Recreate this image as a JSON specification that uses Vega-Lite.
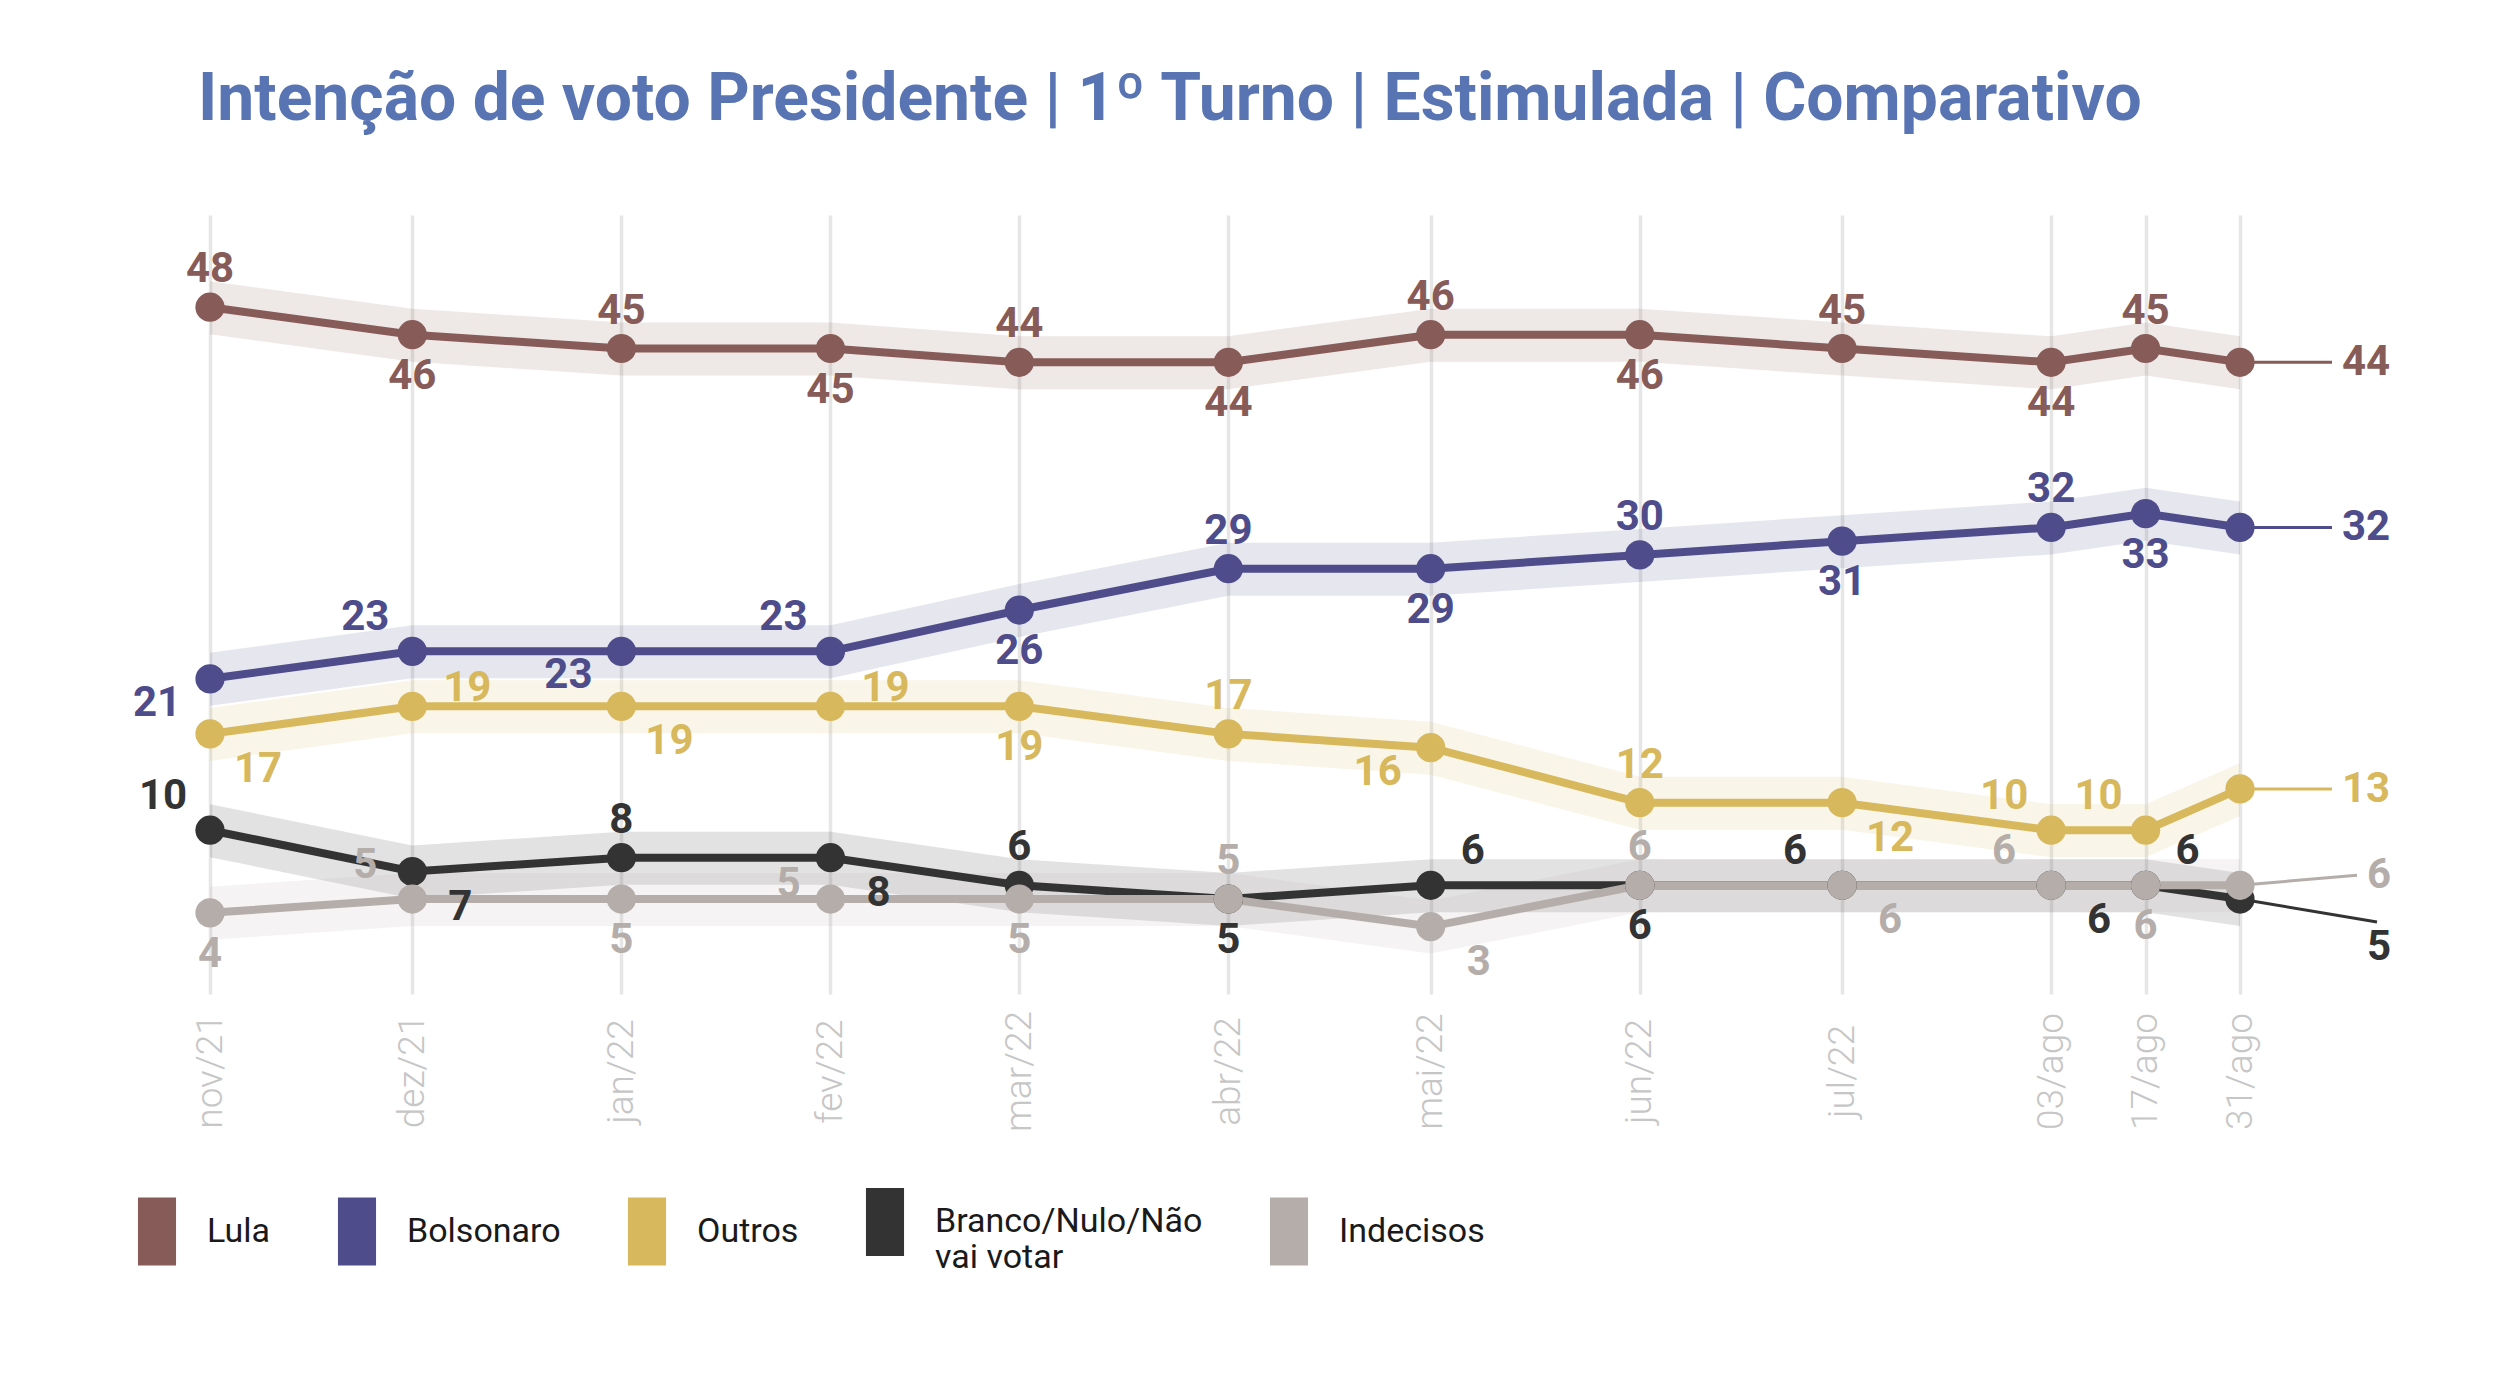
{
  "$schema": "https://vega.github.io/schema/vega-lite/v6.json",
  "width": 2030,
  "height": 779,
  "autosize": {"type": "none"},
  "padding": {"left": 210, "top": 215, "right": 254, "bottom": 404},
  "background": "white",
  "config": {"view": {"stroke": null}, "font": "Roboto"},
  "title": {
    "text": "Intenção de voto Presidente | 1º Turno | Estimulada | Comparativo",
    "anchor": "start", "frame": "group", "dx": -12, "offset": 29,
    "font": "Roboto", "fontSize": 66, "fontWeight": "bold", "color": "#5874B3", "baseline": "alphabetic"
  },
  "data": {"values": [
    {"serie": "Lula", "periodo": "nov/21", "data": "2021-11-03", "valor": 48, "pos": "above"},
    {"serie": "Lula", "periodo": "dez/21", "data": "2021-12-03", "valor": 46, "pos": "below"},
    {"serie": "Lula", "periodo": "jan/22", "data": "2022-01-03", "valor": 45, "pos": "above"},
    {"serie": "Lula", "periodo": "fev/22", "data": "2022-02-03", "valor": 45, "pos": "below"},
    {"serie": "Lula", "periodo": "mar/22", "data": "2022-03-03", "valor": 44, "pos": "above"},
    {"serie": "Lula", "periodo": "abr/22", "data": "2022-04-03", "valor": 44, "pos": "below"},
    {"serie": "Lula", "periodo": "mai/22", "data": "2022-05-03", "valor": 46, "pos": "above"},
    {"serie": "Lula", "periodo": "jun/22", "data": "2022-06-03", "valor": 46, "pos": "below"},
    {"serie": "Lula", "periodo": "jul/22", "data": "2022-07-03", "valor": 45, "pos": "above"},
    {"serie": "Lula", "periodo": "03/ago", "data": "2022-08-03", "valor": 44, "pos": "below"},
    {"serie": "Lula", "periodo": "17/ago", "data": "2022-08-17", "valor": 45, "pos": "above"},
    {"serie": "Lula", "periodo": "31/ago", "data": "2022-08-31", "valor": 44, "pos": "end"},
    {"serie": "Bolsonaro", "periodo": "nov/21", "data": "2021-11-03", "valor": 21, "pos": "below-left"},
    {"serie": "Bolsonaro", "periodo": "dez/21", "data": "2021-12-03", "valor": 23, "pos": "above-left"},
    {"serie": "Bolsonaro", "periodo": "jan/22", "data": "2022-01-03", "valor": 23, "pos": "below-left"},
    {"serie": "Bolsonaro", "periodo": "fev/22", "data": "2022-02-03", "valor": 23, "pos": "above-left"},
    {"serie": "Bolsonaro", "periodo": "mar/22", "data": "2022-03-03", "valor": 26, "pos": "below"},
    {"serie": "Bolsonaro", "periodo": "abr/22", "data": "2022-04-03", "valor": 29, "pos": "above"},
    {"serie": "Bolsonaro", "periodo": "mai/22", "data": "2022-05-03", "valor": 29, "pos": "below"},
    {"serie": "Bolsonaro", "periodo": "jun/22", "data": "2022-06-03", "valor": 30, "pos": "above"},
    {"serie": "Bolsonaro", "periodo": "jul/22", "data": "2022-07-03", "valor": 31, "pos": "below"},
    {"serie": "Bolsonaro", "periodo": "03/ago", "data": "2022-08-03", "valor": 32, "pos": "above"},
    {"serie": "Bolsonaro", "periodo": "17/ago", "data": "2022-08-17", "valor": 33, "pos": "below"},
    {"serie": "Bolsonaro", "periodo": "31/ago", "data": "2022-08-31", "valor": 32, "pos": "end"},
    {"serie": "Outros", "periodo": "nov/21", "data": "2021-11-03", "valor": 17, "pos": "below-right"},
    {"serie": "Outros", "periodo": "dez/21", "data": "2021-12-03", "valor": 19, "pos": "right"},
    {"serie": "Outros", "periodo": "jan/22", "data": "2022-01-03", "valor": 19, "pos": "below-right"},
    {"serie": "Outros", "periodo": "fev/22", "data": "2022-02-03", "valor": 19, "pos": "right"},
    {"serie": "Outros", "periodo": "mar/22", "data": "2022-03-03", "valor": 19, "pos": "below"},
    {"serie": "Outros", "periodo": "abr/22", "data": "2022-04-03", "valor": 17, "pos": "above"},
    {"serie": "Outros", "periodo": "mai/22", "data": "2022-05-03", "valor": 16, "pos": "below-left"},
    {"serie": "Outros", "periodo": "jun/22", "data": "2022-06-03", "valor": 12, "pos": "above"},
    {"serie": "Outros", "periodo": "jul/22", "data": "2022-07-03", "valor": 12, "pos": "below-right"},
    {"serie": "Outros", "periodo": "03/ago", "data": "2022-08-03", "valor": 10, "pos": "above-left"},
    {"serie": "Outros", "periodo": "17/ago", "data": "2022-08-17", "valor": 10, "pos": "above-left"},
    {"serie": "Outros", "periodo": "31/ago", "data": "2022-08-31", "valor": 13, "pos": "end"},
    {"serie": "Branco/Nulo/Não vai votar", "periodo": "nov/21", "data": "2021-11-03", "valor": 10, "pos": "above-left"},
    {"serie": "Branco/Nulo/Não vai votar", "periodo": "dez/21", "data": "2021-12-03", "valor": 7, "pos": "below-right"},
    {"serie": "Branco/Nulo/Não vai votar", "periodo": "jan/22", "data": "2022-01-03", "valor": 8, "pos": "above"},
    {"serie": "Branco/Nulo/Não vai votar", "periodo": "fev/22", "data": "2022-02-03", "valor": 8, "pos": "below-right"},
    {"serie": "Branco/Nulo/Não vai votar", "periodo": "mar/22", "data": "2022-03-03", "valor": 6, "pos": "above"},
    {"serie": "Branco/Nulo/Não vai votar", "periodo": "abr/22", "data": "2022-04-03", "valor": 5, "pos": "below"},
    {"serie": "Branco/Nulo/Não vai votar", "periodo": "mai/22", "data": "2022-05-03", "valor": 6, "pos": "above-right"},
    {"serie": "Branco/Nulo/Não vai votar", "periodo": "jun/22", "data": "2022-06-03", "valor": 6, "pos": "below"},
    {"serie": "Branco/Nulo/Não vai votar", "periodo": "jul/22", "data": "2022-07-03", "valor": 6, "pos": "above-left"},
    {"serie": "Branco/Nulo/Não vai votar", "periodo": "03/ago", "data": "2022-08-03", "valor": 6, "pos": "below-right"},
    {"serie": "Branco/Nulo/Não vai votar", "periodo": "17/ago", "data": "2022-08-17", "valor": 6, "pos": "above-right"},
    {"serie": "Branco/Nulo/Não vai votar", "periodo": "31/ago", "data": "2022-08-31", "valor": 5, "pos": "end-down"},
    {"serie": "Indecisos", "periodo": "nov/21", "data": "2021-11-03", "valor": 4, "pos": "below"},
    {"serie": "Indecisos", "periodo": "dez/21", "data": "2021-12-03", "valor": 5, "pos": "above-left"},
    {"serie": "Indecisos", "periodo": "jan/22", "data": "2022-01-03", "valor": 5, "pos": "below"},
    {"serie": "Indecisos", "periodo": "fev/22", "data": "2022-02-03", "valor": 5, "pos": "left"},
    {"serie": "Indecisos", "periodo": "mar/22", "data": "2022-03-03", "valor": 5, "pos": "below"},
    {"serie": "Indecisos", "periodo": "abr/22", "data": "2022-04-03", "valor": 5, "pos": "above"},
    {"serie": "Indecisos", "periodo": "mai/22", "data": "2022-05-03", "valor": 3, "pos": "below-right"},
    {"serie": "Indecisos", "periodo": "jun/22", "data": "2022-06-03", "valor": 6, "pos": "above"},
    {"serie": "Indecisos", "periodo": "jul/22", "data": "2022-07-03", "valor": 6, "pos": "below-right"},
    {"serie": "Indecisos", "periodo": "03/ago", "data": "2022-08-03", "valor": 6, "pos": "above-left"},
    {"serie": "Indecisos", "periodo": "17/ago", "data": "2022-08-17", "valor": 6, "pos": "below"},
    {"serie": "Indecisos", "periodo": "31/ago", "data": "2022-08-31", "valor": 6, "pos": "end-up"}
  ]},
  "encoding": {
    "x": {
      "field": "data", "type": "temporal",
      "scale": {"type": "utc", "nice": false},
      "axis": {
        "values": [
          {"year": 2021, "month": 11, "date": 3, "utc": true},
          {"year": 2021, "month": 12, "date": 3, "utc": true},
          {"year": 2022, "month": 1, "date": 3, "utc": true},
          {"year": 2022, "month": 2, "date": 3, "utc": true},
          {"year": 2022, "month": 3, "date": 3, "utc": true},
          {"year": 2022, "month": 4, "date": 3, "utc": true},
          {"year": 2022, "month": 5, "date": 3, "utc": true},
          {"year": 2022, "month": 6, "date": 3, "utc": true},
          {"year": 2022, "month": 7, "date": 3, "utc": true},
          {"year": 2022, "month": 8, "date": 3, "utc": true},
          {"year": 2022, "month": 8, "date": 17, "utc": true},
          {"year": 2022, "month": 8, "date": 31, "utc": true}
        ],
        "labelExpr": "(utcdate(datum.value) == 3 && utcmonth(datum.value) != 7) ? ['jan','fev','mar','abr','mai','jun','jul','ago','set','out','nov','dez'][utcmonth(datum.value)] + '/' + utcFormat(datum.value, '%y') : utcFormat(datum.value, '%d') + '/ago'",
        "labelAngle": -90, "labelAlign": "center", "labelBaseline": "middle", "labelPadding": 77,
        "ticks": false, "tickSize": 0, "domain": false,
        "grid": true, "gridColor": "#E6E6E6", "gridWidth": 3.5,
        "labelFont": "Roboto", "labelFontWeight": 300, "labelFontSize": 37, "labelColor": "#C6C6C6",
        "labelOverlap": false, "labelFlush": false, "labelBound": false, "title": null
      }
    },
    "y": {"field": "valor", "type": "quantitative", "scale": {"domain": [-1.9, 54.7], "nice": false, "zero": false}, "axis": null},
    "color": {
      "field": "serie", "type": "nominal",
      "scale": {
        "domain": ["Lula", "Bolsonaro", "Outros", "Branco/Nulo/Não vai votar", "Indecisos"],
        "range": ["#875B57", "#4E4C8A", "#D8B85C", "#333333", "#B5ADAA"]
      },
      "legend": {
        "orient": "none", "legendX": -87, "legendY": 973, "direction": "horizontal", "title": null,
        "symbolType": "M-0.56,-1H0.56V1H-0.56Z", "symbolSize": 4624, "symbolOpacity": 1, "symbolStrokeWidth": 0,
        "labelFont": "Roboto", "labelFontSize": 34, "labelFontWeight": 400, "labelColor": "#1A1A1A",
        "labelOffset": 16, "columnPadding": 52, "labelLimit": 1000, "labelBaseline": "middle",
        "padding": 0, "rowPadding": 0,
        "labelExpr": "datum.label == 'Branco/Nulo/Não vai votar' ? ['Branco/Nulo/Não', 'vai votar'] : datum.label",
        "encode": {
          "symbols": {
            "update": {
              "fill": {"scale": "color", "field": "value"},
              "fillOpacity": {"value": 1},
              "opacity": {"value": 1},
              "strokeWidth": {"value": 0}
            }
          }
        }
      }
    }
  },
  "layer": [
    {
      "mark": {"type": "area", "opacity": 0.14, "yOffset": -26, "y2Offset": 27},
      "encoding": {"y2": {"field": "valor"}}
    },
    {
      "mark": {"type": "line", "strokeWidth": 8}
    },
    {
      "transform": [{"filter": "datum.pos == 'end'"}],
      "mark": {"type": "rule", "strokeWidth": 3, "x2Offset": 92},
      "encoding": {"x2": {"field": "data"}, "y2": {"field": "valor"}}
    },
    {
      "transform": [{"filter": "datum.pos == 'end-up'"}],
      "mark": {"type": "rule", "strokeWidth": 3, "x2Offset": 117, "y2Offset": -10},
      "encoding": {"x2": {"field": "data"}, "y2": {"field": "valor"}}
    },
    {
      "transform": [{"filter": "datum.pos == 'end-down'"}],
      "mark": {"type": "rule", "strokeWidth": 3, "x2Offset": 137, "y2Offset": 23},
      "encoding": {"x2": {"field": "data"}, "y2": {"field": "valor"}}
    },
    {
      "mark": {"type": "circle", "size": 855, "opacity": 1}
    },
    {
      "mark": {
        "type": "text", "font": "Roboto", "fontWeight": "bold", "fontSize": 42, "baseline": "middle",
        "align": {"expr": "indexof(datum.pos, 'end') == 0 ? 'left' : 'center'"},
        "dx": {"expr": "datum.pos == 'above-left' ? -47 : datum.pos == 'above-right' ? 42 : datum.pos == 'below-left' ? -53 : datum.pos == 'below-right' ? 48 : datum.pos == 'right' ? 55 : datum.pos == 'left' ? -42 : datum.pos == 'end' ? 102 : (datum.pos == 'end-up' || datum.pos == 'end-down') ? 127 : 0"},
        "dy": {"expr": "datum.pos == 'above' ? -38 : datum.pos == 'below' ? 41 : datum.pos == 'above-left' ? -34 : datum.pos == 'above-right' ? -34 : datum.pos == 'below-left' ? 24 : datum.pos == 'below-right' ? 35 : datum.pos == 'right' ? -18 : datum.pos == 'left' ? -15 : datum.pos == 'end-up' ? -10 : datum.pos == 'end-down' ? 48 : 0"}
      },
      "encoding": {"text": {"field": "valor", "type": "quantitative"}}
    }
  ]
}
